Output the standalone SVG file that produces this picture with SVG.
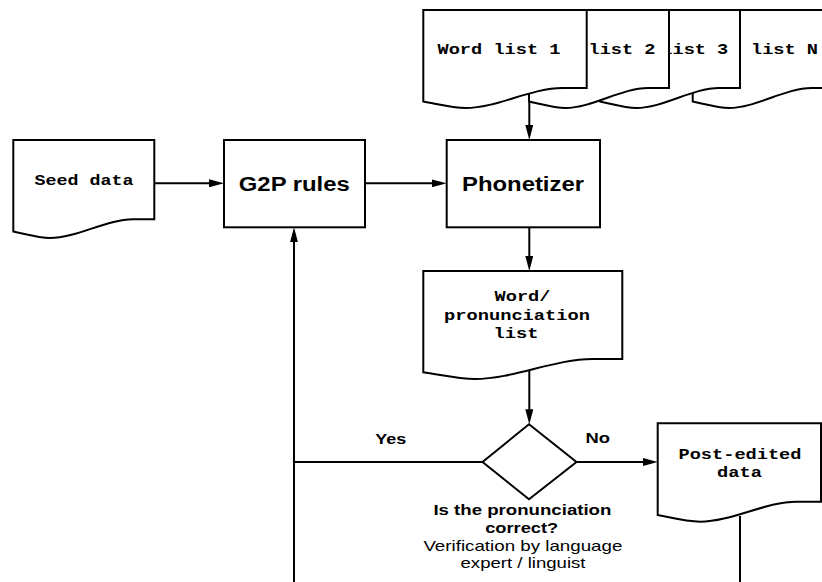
<svg xmlns="http://www.w3.org/2000/svg" width="822" height="582" viewBox="0 0 822 582">
<defs>
<marker id="arr" markerUnits="userSpaceOnUse" viewBox="0 0 15 8" refX="5" refY="4" markerWidth="15" markerHeight="8" orient="auto">
<path d="M0,0 L15,4 L0,8 Z" fill="#000"/>
</marker>
<style>
.shape{fill:#fff;stroke:#000;stroke-width:2;stroke-linejoin:miter}
.edge{fill:none;stroke:#000;stroke-width:2}
.mono{font-family:"Liberation Mono","DejaVu Sans Mono",monospace;font-size:15px;font-weight:bold;fill:#000}
.big{font-family:"Liberation Sans",Arial,sans-serif;font-size:20px;font-weight:bold;fill:#000}
.lbl{font-family:"Liberation Sans",Arial,sans-serif;font-size:15px;font-weight:bold;fill:#000}
.note{font-family:"Liberation Sans",Arial,sans-serif;font-size:15px;fill:#000}
</style>
</defs>
<rect width="822" height="582" fill="#fff"/>

<g id="connectors">
<path class="edge" d="M154.3,183.3 H214" marker-end="url(#arr)"/>
<path class="edge" d="M365,183.3 H436.7" marker-end="url(#arr)"/>
<path class="edge" d="M529.3,96 V130" marker-end="url(#arr)"/>
<path class="edge" d="M529.3,227.3 V261" marker-end="url(#arr)"/>
<path class="edge" d="M529.3,370 V414.3" marker-end="url(#arr)"/>
<path class="edge" d="M576.5,462 H647.7" marker-end="url(#arr)"/>
<path class="edge" d="M482.5,462 H294"/>
<path class="edge" d="M294,582 V237.3" marker-end="url(#arr)"/>
<path class="edge" d="M740,516 V582"/>
</g>

<g id="word-list-n">
<path class="shape" d="M692.7,10 H832.7 V88 H811.7 C785.1,88 755.7,108 729.1,108 C717.9,108 706.7,104.5 692.7,101.5 Z"/>
<text class="mono" x="751" y="54" textLength="67" lengthAdjust="spacingAndGlyphs">list N</text>
</g>
<g id="word-list-3">
<path class="shape" d="M600,10 H740 V88 H719 C692.4,88 663,108 636.4,108 C625.2,108 614,104.5 600,101.5 Z"/>
<text class="mono" x="661.3" y="54" textLength="67" lengthAdjust="spacingAndGlyphs">list 3</text>
</g>
<g id="word-list-2">
<path class="shape" d="M529,10 H669 V88 H648 C621.4,88 592,108 565.4,108 C554.2,108 543,104.5 529,101.5 Z"/>
<text class="mono" x="588.5" y="54" textLength="67" lengthAdjust="spacingAndGlyphs">list 2</text>
</g>
<g id="word-list-1">
<path class="shape" d="M423.3,10 H586.7 V88 H562.2 C531.1,88 496.8,108 465.8,108 C452.7,108 439.6,104.5 423.3,101.5 Z"/>
<text class="mono" x="437.5" y="54" textLength="123" lengthAdjust="spacingAndGlyphs">Word list 1</text>
</g>

<g id="seed-data">
<path class="shape" d="M13.3,140 H154.3 V219.3 H133.2 C106.4,219.3 76.8,238 50,238 C38.7,238 27.4,234.5 13.3,231.5 Z"/>
<text class="mono" x="84" y="185" text-anchor="middle" textLength="99" lengthAdjust="spacingAndGlyphs">Seed data</text>
</g>

<g id="g2p-rules">
<rect class="shape" x="224" y="140" width="141" height="87.3"/>
<text class="big" x="294.3" y="191" text-anchor="middle" textLength="111" lengthAdjust="spacingAndGlyphs">G2P rules</text>
</g>

<g id="phonetizer">
<rect class="shape" x="446.7" y="140" width="153.3" height="87.3"/>
<text class="big" x="523" y="191" text-anchor="middle" textLength="122" lengthAdjust="spacingAndGlyphs">Phonetizer</text>
</g>

<g id="word-pronunciation-list">
<path class="shape" d="M423.3,271 H622.3 V359 H592.5 C554.6,359 512.9,379 475,379 C459.1,379 443.2,375.3 423.3,372.3 Z"/>
<text class="mono" x="494.5" y="301" textLength="56" lengthAdjust="spacingAndGlyphs">Word/</text>
<text class="mono" x="444" y="319.5" textLength="146" lengthAdjust="spacingAndGlyphs">pronunciation</text>
<text class="mono" x="493.5" y="338" textLength="45" lengthAdjust="spacingAndGlyphs">list</text>
</g>

<g id="decision">
<polygon class="shape" points="529,424.3 576.5,462 529,499.3 482.5,462"/>
<text class="lbl" x="522.4" y="514.5" text-anchor="middle" textLength="178" lengthAdjust="spacingAndGlyphs">Is the pronunciation</text>
<text class="lbl" x="521.7" y="532.7" text-anchor="middle" textLength="73" lengthAdjust="spacingAndGlyphs">correct?</text>
<text class="note" x="522.9" y="550.5" text-anchor="middle" textLength="199" lengthAdjust="spacingAndGlyphs">Verification by language</text>
<text class="note" x="523" y="568" text-anchor="middle" textLength="125" lengthAdjust="spacingAndGlyphs">expert / linguist</text>
</g>

<g id="edge-labels">
<text class="lbl" x="390.8" y="444" text-anchor="middle" textLength="31" lengthAdjust="spacingAndGlyphs">Yes</text>
<text class="lbl" x="597.7" y="442.5" text-anchor="middle" textLength="24.5" lengthAdjust="spacingAndGlyphs">No</text>
</g>

<g id="post-edited-data">
<path class="shape" d="M657.7,423.3 H821 V501.7 H796.5 C765.5,501.7 731.2,521.7 700.2,521.7 C687.1,521.7 674,518.3 657.7,515 Z"/>
<text class="mono" x="678.5" y="459.3" textLength="123" lengthAdjust="spacingAndGlyphs">Post-edited</text>
<text class="mono" x="717" y="476.7" textLength="45" lengthAdjust="spacingAndGlyphs">data</text>
</g>
</svg>
